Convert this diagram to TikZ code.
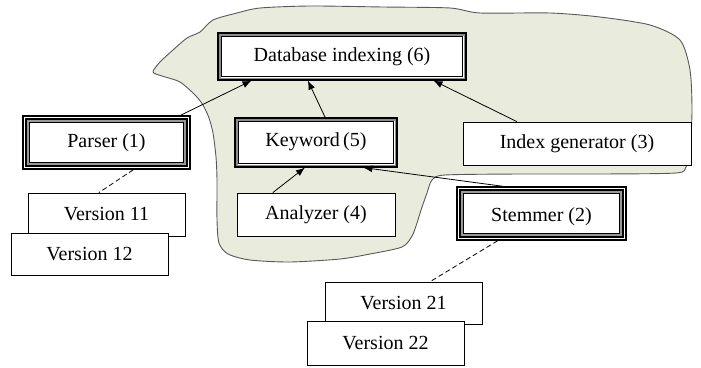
\documentclass[tikz,border=0pt]{standalone}
\usepackage{fontspec}
\setmainfont{Liberation Serif}
\newfontfamily\diagfont{Liberation Serif}
\usetikzlibrary{calc,arrows.meta}
\begin{document}
\begin{tikzpicture}[x=1pt,y=-1pt,
  every node/.style={font=\diagfont\fontsize{20}{24}\selectfont, inner sep=0pt},
  plainbox/.style={draw=black, fill=white, line width=0.8pt},
  thinframe/.style={draw=black, fill=white, line width=1.2pt},
  heavyframe/.style={draw=black, fill=white, line width=1.5pt},
  conn/.style={line width=0.8pt, -{Latex[length=9pt,width=7pt]}},
  dashconn/.style={line width=0.8pt, dashed, dash pattern=on 5pt off 3pt}]
\useasboundingbox (0,0) rectangle (701,367);
% blob
\draw[fill={rgb,255:red,233;green,236;blue,220}, draw=black!65, line width=0.9pt]
  plot[smooth cycle, tension=0.45] coordinates {
  (153,72) (160,62) (173,50) (187,38) (200,32) (213,20) (237,13) (260,8)
  (310,6) (383,7) (450,8) (480,13) (550,13) (600,17) (650,25) (680,40)
  (690,70) (692,110) (690,150) (686,167) (676,173) (600,174) (520,174)
  (445,175) (432,180) (427,193) (421,210) (417,223) (412,236) (402,247)
  (370,254) (340,259) (290,262) (250,260) (228,254) (219,243) (217,220)
  (217,180) (216,157) (213,133) (209,118) (203,105) (195,95) (180,82) (162,76)};
% nodes
\node[thinframe, minimum width=248, minimum height=47] (db) at (342,56.5) {};
\node at (342,57) {Database indexing (6)};
\node[thinframe, minimum width=162, minimum height=49] (kw) at (316,142.5) {};
\node at (316,142) {Keyword\,(5)};
\node[plainbox, minimum width=228, minimum height=43] (ig) at (577,143.5) {Index generator (3)};
\node[plainbox, minimum width=158, minimum height=43] (an) at (316,214.5) {Analyzer (4)};
\node[heavyframe, minimum width=167, minimum height=53] (ps) at (106.5,142.5) {};
\node at (106.5,143) {Parser (1)};
\node[heavyframe, minimum width=169, minimum height=53] (st) at (541.5,213.5) {};
\node at (541.5,217) {Stemmer (2)};
\node[plainbox, minimum width=157, minimum height=43] (v11) at (106.5,214.5) {Version 11};
\node[plainbox, minimum width=157, minimum height=42] (v12) at (89.5,254) {Version 12};
\node[plainbox, minimum width=157, minimum height=42] (v21) at (403.5,303) {Version 21};
\node[plainbox, minimum width=157, minimum height=44] (v22) at (385.5,343) {Version 22};
% frames
\foreach \n in {db,kw}{
  \draw[black!45, line width=1.8pt] ([xshift=2.2pt,yshift=-2.2pt]\n.north west) rectangle ([xshift=-2.2pt,yshift=2.2pt]\n.south east);
  \draw[black, line width=1.1pt] ([xshift=3.9pt,yshift=-3.9pt]\n.north west) rectangle ([xshift=-3.9pt,yshift=3.9pt]\n.south east);
}
\foreach \n in {ps,st}{
  \draw[black, line width=2pt] ([xshift=4pt,yshift=-4pt]\n.north west) rectangle ([xshift=-4pt,yshift=4pt]\n.south east);
  \draw[black!40, line width=1.2pt] ([xshift=5.8pt,yshift=-5.8pt]\n.north west) rectangle ([xshift=-5.8pt,yshift=5.8pt]\n.south east);
  \draw[black, line width=1pt] ([xshift=7.1pt,yshift=-7.1pt]\n.north west) rectangle ([xshift=-7.1pt,yshift=7.1pt]\n.south east);
}
% connectors
\draw[conn] ($(ps.north west)!0.94!(ps.north east)$) -- ($(db.south west)!0.137!(db.south east)$);
\draw[conn] ($(kw.north west)!0.556!(kw.north east)$) -- ($(db.south west)!0.363!(db.south east)$);
\draw[conn] ($(ig.north west)!0.237!(ig.north east)$) -- ($(db.south west)!0.867!(db.south east)$);
\draw[conn] ($(an.north west)!0.228!(an.north east)$) -- ($(kw.south west)!0.432!(kw.south east)$);
\draw[conn] ($(st.north west)!0.272!(st.north east)$) -- ($(kw.south west)!0.79!(kw.south east)$);
\draw[dashconn] ($(ps.south west)!0.659!(ps.south east)$) -- ($(v11.north west)!0.452!(v11.north east)$);
\draw[dashconn] ($(st.south west)!0.243!(st.south east)$) -- ($(v21.north west)!0.669!(v21.north east)$);
\end{tikzpicture}
\end{document}
